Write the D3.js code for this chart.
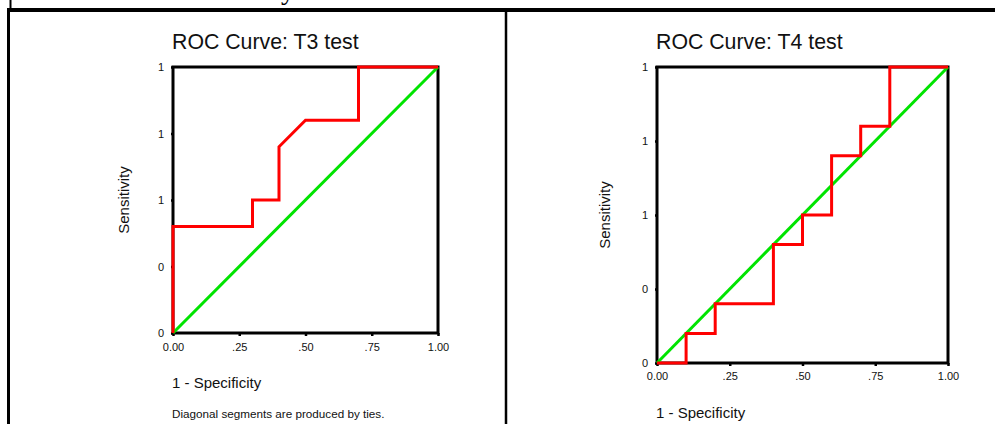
<!DOCTYPE html>
<html>
<head>
<meta charset="utf-8">
<script src="https://cdn.jsdelivr.net/npm/d3@7"></script>
<style>
  html, body { margin: 0; padding: 0; background: #fff; }
  svg { display: block; }
  text { font-family: "Liberation Sans", Arial, sans-serif; fill: #111; }
</style>
</head>
<body>
<svg id="chart" width="995" height="424"></svg>
<script>
// Axis ticks
const xTickValues = [0, 0.25, 0.5, 0.75, 1];
const xTickLabels = ["0.00", ".25", ".50", ".75", "1.00"];
const yTickValues = [0, 0.25, 0.5, 0.75, 1];
const yTickLabels = ["0", "0", "1", "1", "1"];

// ROC coordinates, T3 test
const t3Spec = [0, 0, 0.3, 0.3, 0.4, 0.4, 0.5, 0.7, 0.7, 1];
const t3Sens = [0, 0.4, 0.4, 0.5, 0.5, 0.7, 0.8, 0.8, 1, 1];

// ROC coordinates, T4 test
const t4Spec = [0, 0.1, 0.1, 0.2, 0.2, 0.4, 0.4, 0.5, 0.5, 0.6, 0.6, 0.7, 0.7, 0.8, 0.8, 1];
const t4Sens = [0, 0, 0.1, 0.1, 0.2, 0.2, 0.4, 0.4, 0.5, 0.5, 0.7, 0.7, 0.8, 0.8, 1, 1];

// Reference (chance) line
const refSpec = [0, 1];
const refSens = [0, 1];

const svg = d3.select("#chart");

// Page frame, with the tail of the heading above it
svg.append("text")
  .attr("x", 281).attr("y", -1)
  .style("font-family", "'Liberation Serif', 'Times New Roman', serif")
  .style("font-size", "28px")
  .style("fill", "#000")
  .text("y");
svg.append("line").attr("x1", 10.5).attr("x2", 10.5).attr("y1", 0).attr("y2", 9)
  .attr("stroke", "#000").attr("stroke-width", 2);
svg.append("line").attr("x1", 7).attr("x2", 995).attr("y1", 10).attr("y2", 10)
  .attr("stroke", "#000").attr("stroke-width", 4);
svg.append("line").attr("x1", 8.5).attr("x2", 8.5).attr("y1", 8).attr("y2", 424)
  .attr("stroke", "#000").attr("stroke-width", 3);
svg.append("line").attr("x1", 506).attr("x2", 506).attr("y1", 10).attr("y2", 424)
  .attr("stroke", "#000").attr("stroke-width", 2.5);

const panels = [
  {
    title: "ROC Curve: T3 test", spec: t3Spec, sens: t3Sens,
    left: 173, right: 438, top: 67, bottom: 333,
    yLabelX: 129, xTickDy: 18, xLabelY: 388, note: "Diagonal segments are produced by ties.", noteY: 418
  },
  {
    title: "ROC Curve: T4 test", spec: t4Spec, sens: t4Sens,
    left: 657, right: 948, top: 67, bottom: 363,
    yLabelX: 610, xTickDy: 16.5, xLabelY: 418, note: null
  }
];

panels.forEach(p => {
  const x = d3.scaleLinear().domain([0, 1]).range([p.left, p.right]);
  const y = d3.scaleLinear().domain([0, 1]).range([p.bottom, p.top]);
  const g = svg.append("g");

  // Title
  g.append("text")
    .attr("x", p.left - 1).attr("y", 48.5)
    .style("font-size", "21.3px")
    .text(p.title);

  // Plot frame
  g.append("rect")
    .attr("x", x(0)).attr("y", y(1))
    .attr("width", x(1) - x(0)).attr("height", y(0) - y(1))
    .attr("fill", "none").attr("stroke", "#000").attr("stroke-width", 3);

  // Axes
  const xAxis = g.append("g")
    .attr("transform", `translate(0,${p.bottom})`)
    .call(d3.axisBottom(x).tickValues(xTickValues)
      .tickFormat((d, i) => xTickLabels[i]).tickSizeInner(3).tickSizeOuter(0).tickPadding(2));
  xAxis.select(".domain").remove();
  xAxis.selectAll(".tick line").attr("stroke", "#000").attr("stroke-width", 2.5);
  xAxis.selectAll(".tick text")
    .attr("y", p.xTickDy).attr("dy", "0")
    .style("font-size", "11px").style("font-family", "'Liberation Sans', Arial, sans-serif")
    .attr("fill", "#111");

  const yAxis = g.append("g")
    .attr("transform", `translate(${p.left},0)`)
    .call(d3.axisLeft(y).tickValues(yTickValues)
      .tickFormat((d, i) => yTickLabels[i]).tickSizeInner(2).tickSizeOuter(0).tickPadding(7));
  yAxis.select(".domain").remove();
  yAxis.selectAll(".tick line").attr("stroke", "#000").attr("stroke-width", 2.5);
  yAxis.selectAll(".tick text")
    .style("font-size", "11px").style("font-family", "'Liberation Sans', Arial, sans-serif")
    .attr("fill", "#111");

  // Axis titles
  g.append("text")
    .attr("transform", `translate(${p.yLabelX},${(p.top + p.bottom) / 2}) rotate(-90)`)
    .attr("text-anchor", "middle")
    .style("font-size", "15px")
    .text("Sensitivity");
  g.append("text")
    .attr("x", p.left - 1).attr("y", p.xLabelY)
    .style("font-size", "15px")
    .text("1 - Specificity");
  if (p.note) {
    g.append("text")
      .attr("x", p.left - 1).attr("y", p.noteY)
      .style("font-size", "11.7px")
      .text(p.note);
  }

  const line = d3.line().x(d => x(d[0])).y(d => y(d[1]));

  // Chance line
  g.append("path")
    .datum(refSpec.map((v, i) => [v, refSens[i]]))
    .attr("d", line)
    .attr("fill", "none").attr("stroke", "#00e400").attr("stroke-width", 3);

  // ROC curve
  g.append("path")
    .datum(p.spec.map((v, i) => [v, p.sens[i]]))
    .attr("d", line)
    .attr("fill", "none").attr("stroke", "#ff0000").attr("stroke-width", 3)
    .attr("stroke-linejoin", "miter");
});
</script>
</body>
</html>
